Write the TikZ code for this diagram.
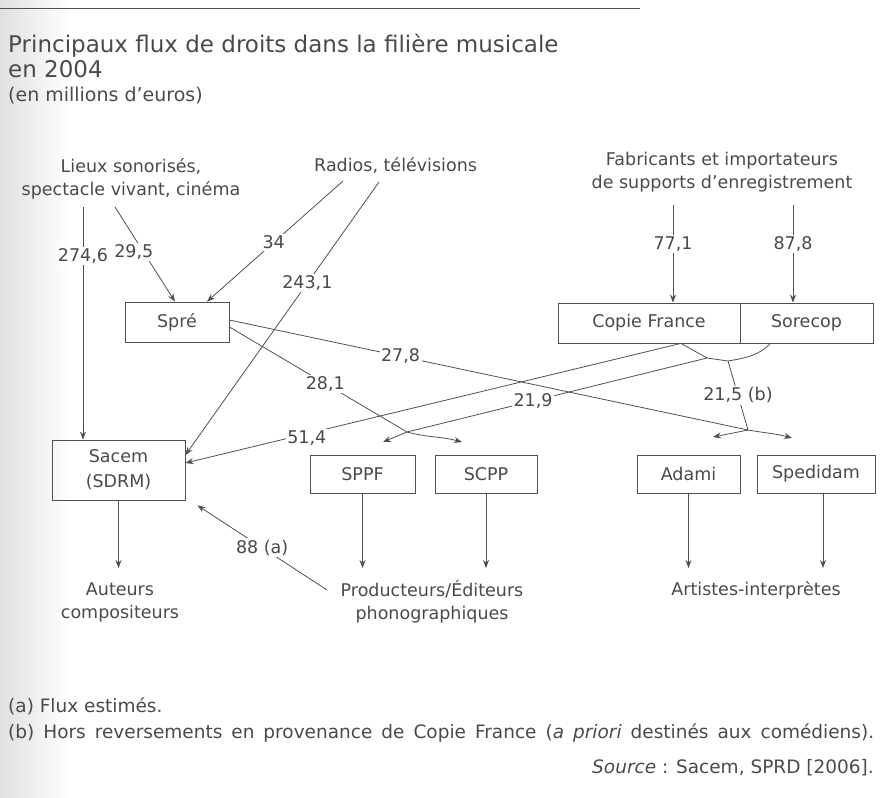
\documentclass[tikz,border=0pt]{standalone}
\usepackage{fontspec}
\setmainfont{DejaVu Sans}
\usetikzlibrary{arrows.meta,calc}
\definecolor{ink}{HTML}{4A4A4A}
\definecolor{lin}{HTML}{505050}
\begin{document}
\begin{tikzpicture}[x=1pt,y=-1pt,
  bodyfont/.style={font=\fontsize{17.5}{23}\selectfont},
  box/.style={draw=lin, line width=0.8pt, minimum height=40pt, inner sep=2pt, text=ink, bodyfont},
  txt/.style={text=ink, inner sep=1pt, bodyfont},
  lbl/.style={fill=white, text=ink, inner sep=1.5pt, bodyfont},
  ln/.style={draw=lin, line width=0.8pt},
  arr/.style={ln, -{Stealth[length=8pt,width=6pt]}},
  fnt/.style={text=ink, inner sep=0pt, font=\fontsize{18.5}{22}\selectfont}]
\useasboundingbox (0,0) rectangle (882,797);
\shade[left color=black!12, right color=white] (0,0) rectangle (70,797);
\draw[lin, line width=1pt] (0,9) -- (640,9);

% title
\node[anchor=base west, text=ink, inner sep=0pt, font=\fontsize{23}{26}\selectfont] (title1) at (8,53) {Principaux flux de droits dans la filière musicale};
\node[anchor=base west, text=ink, inner sep=0pt, font=\fontsize{23}{26}\selectfont] (title2) at (8,78) {en 2004};
\node[anchor=base west, text=ink, inner sep=0pt, font=\fontsize{19}{22}\selectfont] (unit) at (8,102) {(en millions d’euros)};

% sources
\node[txt, align=center] (lieux) at (131,179) {Lieux sonorisés,\\spectacle vivant, cinéma};
\node[txt, anchor=west] (radios) at (313,166) {Radios, télévisions};
\node[txt, align=center] (fab) at (722,172) {Fabricants et importateurs\\de supports d’enregistrement};

% boxes
\node[box, minimum width=104pt] (spre) at (177,322) {Spré};
\node[box, minimum width=133pt, minimum height=60pt, align=center, font=\fontsize{17.5}{25}\selectfont] (sacem) at (118.5,470) {Sacem\\(SDRM)};
\node[box, minimum width=105pt, minimum height=38pt] (sppf) at (362.5,474) {SPPF};
\node[box, minimum width=102pt, minimum height=38pt] (scpp) at (486,474) {SCPP};
\node[box, minimum width=103pt, minimum height=38pt] (adami) at (688.5,474) {Adami};
\node[box, minimum width=118pt, minimum height=38pt] (spedidam) at (816,474) {Spedidam};
\node[box, minimum width=182pt] (copie) at (649,323) {Copie France};
\node[box, minimum width=133pt] (sorecop) at (806.5,323) {Sorecop};

% destinations
\node[txt, align=center] (auteurs) at (120,602) {Auteurs\\compositeurs};
\node[txt, align=center] (prod) at (432,602) {Producteurs/Éditeurs\\phonographiques};
\node[txt] (artistes) at (756,590) {Artistes-interprètes};

% footnotes
\node[fnt, anchor=base west] (fa) at (8,712) {(a) Flux estimés.};
\node[fnt, anchor=base west] (fb) at (8,738) {\makebox[866pt][s]{(b) Hors reversements en provenance de Copie France (\textit{a priori} destinés aux comédiens).}};
\node[fnt, anchor=base east] (src) at (874,773) {\textit{Source} : Sacem, SPRD [2006].};

% coordinates
\coordinate (l1) at (83,207);
\coordinate (l2) at (115,207);
\coordinate (r1) at (343,181);
\coordinate (r2) at (379,182);
\coordinate (f1) at (673,205);
\coordinate (f2) at (793,205);
\coordinate (K1) at (707,358);
\coordinate (K2) at (728,361);
\coordinate (J1) at (407,432);
\coordinate (J2) at (748,430);
\coordinate (cfb) at ([xshift=32pt]copie.south);
\coordinate (sob) at ([xshift=-36pt]sorecop.south);
\coordinate (sppfin) at (383,442);
\coordinate (scppin) at (462,442);
\coordinate (adamiin) at (713,437);
\coordinate (spedin) at (792,438);
\coordinate (bot) at (0,568);
\coordinate (p88) at (327,590);

% inflows
\draw[arr] (l1) -- node[lbl,pos=0.21]{274,6} (l1 |- sacem.north);
\draw[arr] (l2) -- node[lbl,pos=0.48,xshift=-10pt]{29,5} ([xshift=-2pt]spre.north);
\draw[arr] (r1) -- node[lbl,pos=0.51]{34} ([xshift=30pt]spre.north);
\draw[arr] (r2) -- node[lbl,pos=0.37]{243,1} ([yshift=15pt]sacem.east);
\draw[arr] (f1) -- node[lbl,pos=0.4]{77,1} (f1 |- copie.north);
\draw[arr] (f2) -- node[lbl,pos=0.4]{87,8} (f2 |- sorecop.north);

% copie privee
\draw[ln] (cfb) -- (K1) -- (K2);
\draw[ln] (sob) to[out=225,in=10] (K2);
\draw[arr] (cfb) -- node[lbl,pos=0.755,yshift=-4pt]{51,4} ([yshift=7pt]sacem.east);
\draw[ln] (K1) -- node[lbl,pos=0.58]{21,9} (J1);
\draw[ln] (K2) -- node[lbl,pos=0.5]{21,5 (b)} (J2);

% spre
\draw[ln] ([yshift=-5pt]spre.east) -- node[lbl,pos=0.54]{28,1} (J1);
\draw[ln] ([yshift=2pt]spre.east) -- node[lbl,pos=0.33]{27,8} (J2);

% splits
\draw[arr] (J1) -- (sppfin);
\draw[arr] (J1) to[out=-15,in=165] (scppin);
\draw[arr] (J2) -- (adamiin);
\draw[arr] (J2) to[out=-10,in=165] (spedin);

% outflows
\draw[arr] (sacem.south) -- (sacem.south |- bot);
\draw[arr] (sppf.south) -- (sppf.south |- bot);
\draw[arr] (scpp.south) -- (scpp.south |- bot);
\draw[arr] (adami.south) -- (adami.south |- bot);
\draw[arr] ([xshift=7pt]spedidam.south) -- ([xshift=7pt]spedidam.south |- bot);
\draw[arr] (p88) -- node[lbl,pos=0.5]{88 (a)} ([shift={(12pt,-5pt)}]sacem.south east);
\end{tikzpicture}
\end{document}
